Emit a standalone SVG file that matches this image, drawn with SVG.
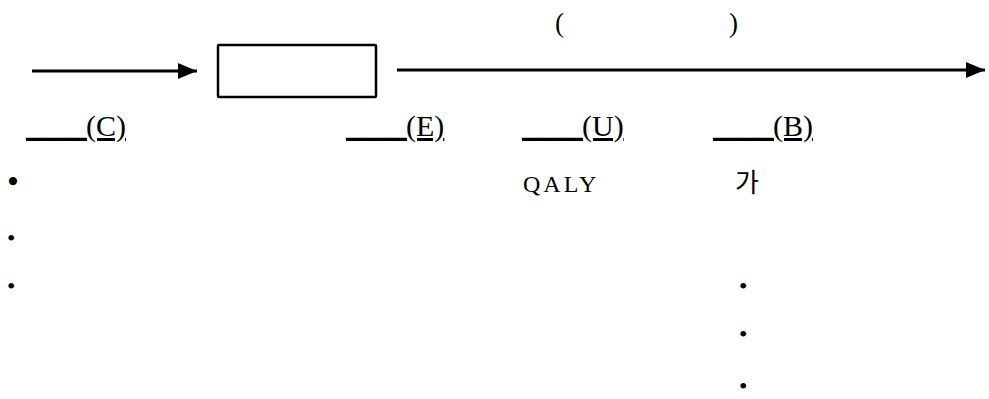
<svg xmlns="http://www.w3.org/2000/svg" width="989" height="399" viewBox="0 0 989 399">
<style>
.t{font-family:"Liberation Serif","Times New Roman",serif;fill:#000}
.lbl{font-size:30px;text-decoration:underline;text-decoration-thickness:1.5px}
.k{font-family:"Noto Sans CJK KR","Noto Sans",sans-serif;font-size:26px;fill:#000}
.b{font-family:"Liberation Serif",serif;fill:#000}
.s{font-size:24px}
</style>
<defs>
<marker id="ah" markerUnits="userSpaceOnUse" markerWidth="20" markerHeight="18" refX="19" refY="8" orient="auto">
<path d="M0,0 L19,8 L0,16 Z" fill="#000"/>
</marker>
</defs>
<rect width="989" height="399" fill="#fff"/>
<g id="connectors" stroke="#000" stroke-width="3" fill="none">
<line x1="32" y1="71" x2="197" y2="71" marker-end="url(#ah)"/>
<line x1="397" y1="70" x2="985" y2="70" marker-end="url(#ah)"/>
</g>
<g id="box">
<rect x="218" y="45" width="158" height="52" fill="#fff" stroke="#000" stroke-width="2.5" rx="1"/>
</g>
<g id="header">
<text class="t" font-size="27" y="32"><tspan x="555">(</tspan><tspan x="729">)</tspan></text>
</g>
<g id="col-C">
<text class="t lbl" x="26" y="136">____(C)</text>
<text class="b" font-size="34" x="7" y="193">•</text>
<text class="b s" x="7" y="245.5">•</text>
<text class="b s" x="7" y="293.5">•</text>
</g>
<g id="col-E">
<text class="t lbl" x="346" y="136">____(E)</text>
</g>
<g id="col-U">
<text class="t lbl" x="522" y="136">____(U)</text>
<text class="t" font-size="24" x="523" y="192" letter-spacing="3">QALY</text>
</g>
<g id="col-B">
<text class="t lbl" x="713" y="136">____(B)</text>
<text class="k" x="735" y="192">가</text>
<text class="b s" x="739" y="293.5">•</text>
<text class="b s" x="739" y="341.5">•</text>
<text class="b s" x="739" y="393.5">•</text>
</g>
</svg>
